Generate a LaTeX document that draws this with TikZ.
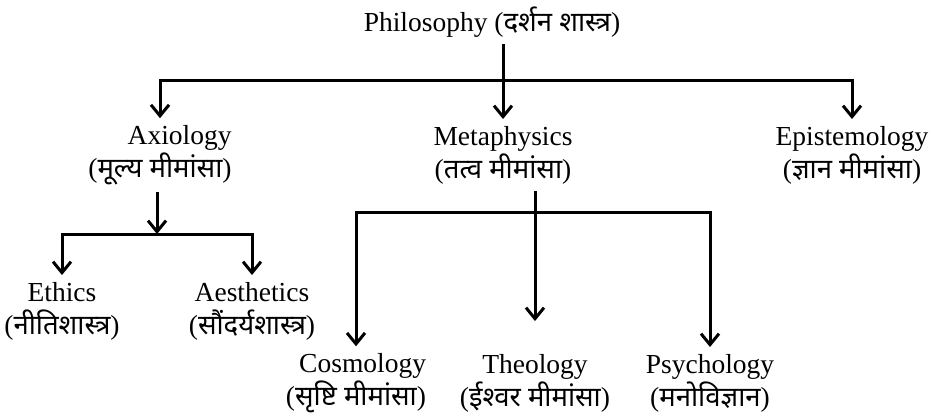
\documentclass[tikz,border=0pt]{standalone}
\usepackage{fontspec}
\setmainfont{Liberation Serif}
\newfontfamily\devfont[Script=Devanagari]{Noto Sans}
\newcommand{\hin}[1]{{\devfont #1}}
\usetikzlibrary{arrows.meta}

\begin{document}
\begin{tikzpicture}[
  x=1pt,
  y=-1pt,
  tree label/.style={font=\fontsize{27.5}{33}\selectfont, align=center,
    inner sep=0pt, outer sep=7pt},
  tree link/.style={line width=3pt},
  tree arrow/.style={tree link, -{Straight Barb[length=11pt,width=18pt]}}
]
  \useasboundingbox (0,0) rectangle (934,415);

  % Root of the tree.
  \node[tree label] (philo) at (492,22) {Philosophy (\hin{दर्शन शास्त्र})};

  % First level: the three main branches.
  \node[tree label, align=right] (axio) at (160,155) {Axiology\\(\hin{मूल्य मीमांसा})};
  \node[tree label] (meta) at (503,155) {Metaphysics\\(\hin{तत्व मीमांसा})};
  \node[tree label] (epis) at (852,155) {Epistemology\\(\hin{ज्ञान मीमांसा})};

  % Branches of axiology.
  \node[tree label] (ethics) at (62,311) {Ethics\\(\hin{नीतिशास्त्र})};
  \node[tree label] (aesth) at (252,311) {Aesthetics\\(\hin{सौंदर्यशास्त्र})};

  % Branches of metaphysics.
  \node[tree label, align=right] (cosmo) at (356,383) {Cosmology\\(\hin{सृष्टि मीमांसा})};
  \node[tree label] (theo) at (535,383) {Theology\\(\hin{ईश्वर मीमांसा})};
  \node[tree label] (psych) at (710,383) {Psychology\\(\hin{मनोविज्ञान})};

  % Forks where the links split.
  \coordinate (philo fork) at (503,80);
  \coordinate (axio fork) at (157,234);
  \coordinate (meta fork) at (536,212);

  % Links from the root.
  \draw[tree arrow] (meta.north |- philo.south) -- (meta.north);
  \draw[tree arrow] (philo fork) -| (axio.north);
  \draw[tree arrow] (philo fork) -| (epis.north);

  % Links from axiology.
  \draw[tree arrow] (axio.south -| axio fork) -- (axio fork);
  \draw[tree arrow] (axio fork) -| (ethics.north);
  \draw[tree arrow] (axio fork) -| (aesth.north);

  % Links from metaphysics.
  \draw[tree arrow, shorten >=26pt] (meta.south -| theo.north) -- (theo.north);
  \draw[tree arrow] (meta fork) -| (cosmo.north);
  \draw[tree arrow] (meta fork) -| (psych.north);
\end{tikzpicture}
\end{document}
